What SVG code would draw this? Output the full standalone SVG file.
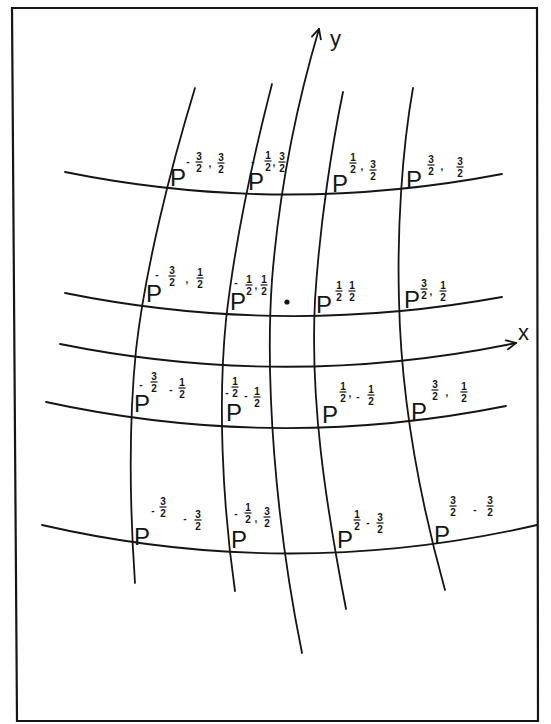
<svg xmlns="http://www.w3.org/2000/svg" width="551" height="724" viewBox="0 0 551 724">
<style>
.ln{fill:none;stroke:#151515;stroke-width:1.8;stroke-linecap:round}
.fr{fill:none;stroke:#151515;stroke-width:2.2}
.P{font-family:"Liberation Sans",Arial,sans-serif;font-size:24px;fill:#151515}
.s{font-size:10px;font-weight:bold;text-anchor:middle}
.fb{stroke:#151515;stroke-width:1.2}
.ax{font-family:"Liberation Sans",Arial,sans-serif;font-size:22px;fill:#151515}
</style>
<defs>
<marker id="arr" viewBox="0 0 12 12" refX="11" refY="6" markerWidth="12" markerHeight="12" markerUnits="userSpaceOnUse" orient="auto">
<path d="M1,1 L11,6 L1,11" fill="none" stroke="#151515" stroke-width="1.8"/>
</marker>
</defs>
<rect width="551" height="724" fill="#fff"/>
<path id="frame" class="fr" d="M12,8 L537,8 L538,721 L17,721 Z"/>
<g id="connectors">
<path class="ln" d="M195,88 C170,170 145,270 136,350 C128,430 130,510 135,583"/>
<path class="ln" d="M272,84 C255,150 235,240 226,320 C218,400 222,500 235,591"/>
<path id="yaxis" class="ln" d="M302,653 C275,520 265,380 272,280 C280,180 298,100 319,29" marker-end="url(#arr)"/>
<path class="ln" d="M343,92 C333,140 320,220 315,300 C310,400 325,500 346,609"/>
<path class="ln" d="M413,88 C402,150 397,230 399,300 C401,400 420,500 445,590"/>
<path class="ln" d="M65,172 Q283,216 502,174"/>
<path class="ln" d="M65,293 Q283,337 502,297"/>
<path id="xaxis" class="ln" d="M60,344 Q288,390 516,343" marker-end="url(#arr)"/>
<path class="ln" d="M46,402 Q276,452 506,406"/>
<path class="ln" d="M42,525 Q290,582 537,525"/>
</g>
<g id="axis_labels">
<text class="ax" x="330" y="46">y</text>
<text class="ax" x="518" y="340">x</text>
</g>
<circle id="origin" cx="287" cy="302" r="2.6" fill="#151515"/>

<g id="p_m32_32">
<text class="P" x="170" y="186">P<tspan class="s" x="188" y="165">-</tspan><tspan class="s" x="199" y="160">3</tspan><tspan class="s" x="199" y="171.5">2</tspan><tspan class="s" x="210" y="167">,</tspan><tspan class="s" x="221" y="161">3</tspan><tspan class="s" x="221" y="172.5">2</tspan></text>
<line class="fb" x1="195.5" y1="162" x2="202.5" y2="162"/><line class="fb" x1="217.5" y1="163" x2="224.5" y2="163"/>
</g>
<g id="p_m12_32">
<text class="P" x="248" y="190">P<tspan class="s" x="253" y="165">-</tspan><tspan class="s" x="268" y="159">1</tspan><tspan class="s" x="268" y="170.5">2</tspan><tspan class="s" x="274" y="166">,</tspan><tspan class="s" x="282" y="160">3</tspan><tspan class="s" x="282" y="171.5">2</tspan></text>
<line class="fb" x1="264.5" y1="161" x2="271.5" y2="161"/><line class="fb" x1="278.5" y1="162" x2="285.5" y2="162"/>
</g>
<g id="p_12_32">
<text class="P" x="332" y="192">P<tspan class="s" x="353" y="161">1</tspan><tspan class="s" x="353" y="172.5">2</tspan><tspan class="s" x="362" y="170">,</tspan><tspan class="s" x="373" y="168">3</tspan><tspan class="s" x="373" y="179.5">2</tspan></text>
<line class="fb" x1="349.5" y1="163" x2="356.5" y2="163"/><line class="fb" x1="369.5" y1="170" x2="376.5" y2="170"/>
</g>
<g id="p_32_32">
<text class="P" x="406" y="188">P<tspan class="s" x="431" y="163">3</tspan><tspan class="s" x="431" y="174.5">2</tspan><tspan class="s" x="442" y="170">,</tspan><tspan class="s" x="460" y="165">3</tspan><tspan class="s" x="460" y="176.5">2</tspan></text>
<line class="fb" x1="427.5" y1="165" x2="434.5" y2="165"/><line class="fb" x1="456.5" y1="167" x2="463.5" y2="167"/>
</g>

<g id="p_m32_12">
<text class="P" x="146" y="302">P<tspan class="s" x="157" y="278">-</tspan><tspan class="s" x="172" y="274">3</tspan><tspan class="s" x="172" y="285.5">2</tspan><tspan class="s" x="187" y="283">,</tspan><tspan class="s" x="200" y="276">1</tspan><tspan class="s" x="200" y="287.5">2</tspan></text>
<line class="fb" x1="168.5" y1="276" x2="175.5" y2="276"/><line class="fb" x1="196.5" y1="278" x2="203.5" y2="278"/>
</g>
<g id="p_m12_12">
<text class="P" x="230" y="310">P<tspan class="s" x="236" y="286">-</tspan><tspan class="s" x="249" y="283">1</tspan><tspan class="s" x="249" y="294.5">2</tspan><tspan class="s" x="256" y="289">,</tspan><tspan class="s" x="264" y="283">1</tspan><tspan class="s" x="264" y="294.5">2</tspan></text>
<line class="fb" x1="245.5" y1="285" x2="252.5" y2="285"/><line class="fb" x1="260.5" y1="285" x2="267.5" y2="285"/>
</g>
<g id="p_12_12">
<text class="P" x="316" y="313">P<tspan class="s" x="339" y="289">1</tspan><tspan class="s" x="339" y="300.5">2</tspan><tspan class="s" x="352" y="289">1</tspan><tspan class="s" x="352" y="300.5">2</tspan></text>
<line class="fb" x1="335.5" y1="291" x2="342.5" y2="291"/><line class="fb" x1="348.5" y1="291" x2="355.5" y2="291"/>
</g>
<g id="p_32_12">
<text class="P" x="404" y="308">P<tspan class="s" x="424" y="287">3</tspan><tspan class="s" x="424" y="298.5">2</tspan><tspan class="s" x="431" y="295">,</tspan><tspan class="s" x="443" y="289">1</tspan><tspan class="s" x="443" y="300.5">2</tspan></text>
<line class="fb" x1="420.5" y1="289" x2="427.5" y2="289"/><line class="fb" x1="439.5" y1="291" x2="446.5" y2="291"/>
</g>

<g id="p_m32_m12">
<text class="P" x="134" y="412">P<tspan class="s" x="141" y="388">-</tspan><tspan class="s" x="154" y="380">3</tspan><tspan class="s" x="154" y="391.5">2</tspan><tspan class="s" x="171" y="393">-</tspan><tspan class="s" x="182" y="386">1</tspan><tspan class="s" x="182" y="397.5">2</tspan></text>
<line class="fb" x1="150.5" y1="382" x2="157.5" y2="382"/><line class="fb" x1="178.5" y1="388" x2="185.5" y2="388"/>
</g>
<g id="p_m12_m12">
<text class="P" x="226" y="421">P<tspan class="s" x="227" y="396">-</tspan><tspan class="s" x="235" y="385">1</tspan><tspan class="s" x="235" y="396.5">2</tspan><tspan class="s" x="246" y="399">-</tspan><tspan class="s" x="257" y="395">1</tspan><tspan class="s" x="257" y="406.5">2</tspan></text>
<line class="fb" x1="231.5" y1="387" x2="238.5" y2="387"/><line class="fb" x1="253.5" y1="397" x2="260.5" y2="397"/>
</g>
<g id="p_12_m12">
<text class="P" x="322" y="423">P<tspan class="s" x="343" y="390">1</tspan><tspan class="s" x="343" y="401.5">2</tspan><tspan class="s" x="350" y="397">,</tspan><tspan class="s" x="358" y="400">-</tspan><tspan class="s" x="371" y="393">1</tspan><tspan class="s" x="371" y="404.5">2</tspan></text>
<line class="fb" x1="339.5" y1="392" x2="346.5" y2="392"/><line class="fb" x1="367.5" y1="395" x2="374.5" y2="395"/>
</g>
<g id="p_32_m12">
<text class="P" x="411" y="420">P<tspan class="s" x="435" y="388">3</tspan><tspan class="s" x="435" y="399.5">2</tspan><tspan class="s" x="447" y="396">,</tspan><tspan class="s" x="464" y="390">1</tspan><tspan class="s" x="464" y="401.5">2</tspan></text>
<line class="fb" x1="431.5" y1="390" x2="438.5" y2="390"/><line class="fb" x1="460.5" y1="392" x2="467.5" y2="392"/>
</g>

<g id="p_m32_m32">
<text class="P" x="134" y="545">P<tspan class="s" x="153" y="514">-</tspan><tspan class="s" x="163" y="505">3</tspan><tspan class="s" x="163" y="516.5">2</tspan><tspan class="s" x="185" y="522">-</tspan><tspan class="s" x="198" y="518">3</tspan><tspan class="s" x="198" y="529.5">2</tspan></text>
<line class="fb" x1="159.5" y1="507" x2="166.5" y2="507"/><line class="fb" x1="194.5" y1="520" x2="201.5" y2="520"/>
</g>
<g id="p_m12_32b">
<text class="P" x="231" y="548">P<tspan class="s" x="236" y="517">-</tspan><tspan class="s" x="248" y="511">1</tspan><tspan class="s" x="248" y="522.5">2</tspan><tspan class="s" x="256" y="522">,</tspan><tspan class="s" x="267" y="515">3</tspan><tspan class="s" x="267" y="526.5">2</tspan></text>
<line class="fb" x1="244.5" y1="513" x2="251.5" y2="513"/><line class="fb" x1="263.5" y1="517" x2="270.5" y2="517"/>
</g>
<g id="p_12_m32">
<text class="P" x="337" y="548">P<tspan class="s" x="357" y="518">1</tspan><tspan class="s" x="357" y="529.5">2</tspan><tspan class="s" x="368" y="526">-</tspan><tspan class="s" x="380" y="521">3</tspan><tspan class="s" x="380" y="532.5">2</tspan></text>
<line class="fb" x1="353.5" y1="520" x2="360.5" y2="520"/><line class="fb" x1="376.5" y1="523" x2="383.5" y2="523"/>
</g>
<g id="p_32_m32">
<text class="P" x="434" y="543">P<tspan class="s" x="453" y="504">3</tspan><tspan class="s" x="453" y="515.5">2</tspan><tspan class="s" x="475" y="513">-</tspan><tspan class="s" x="490" y="504">3</tspan><tspan class="s" x="490" y="515.5">2</tspan></text>
<line class="fb" x1="449.5" y1="506" x2="456.5" y2="506"/><line class="fb" x1="486.5" y1="506" x2="493.5" y2="506"/>
</g>
</svg>
